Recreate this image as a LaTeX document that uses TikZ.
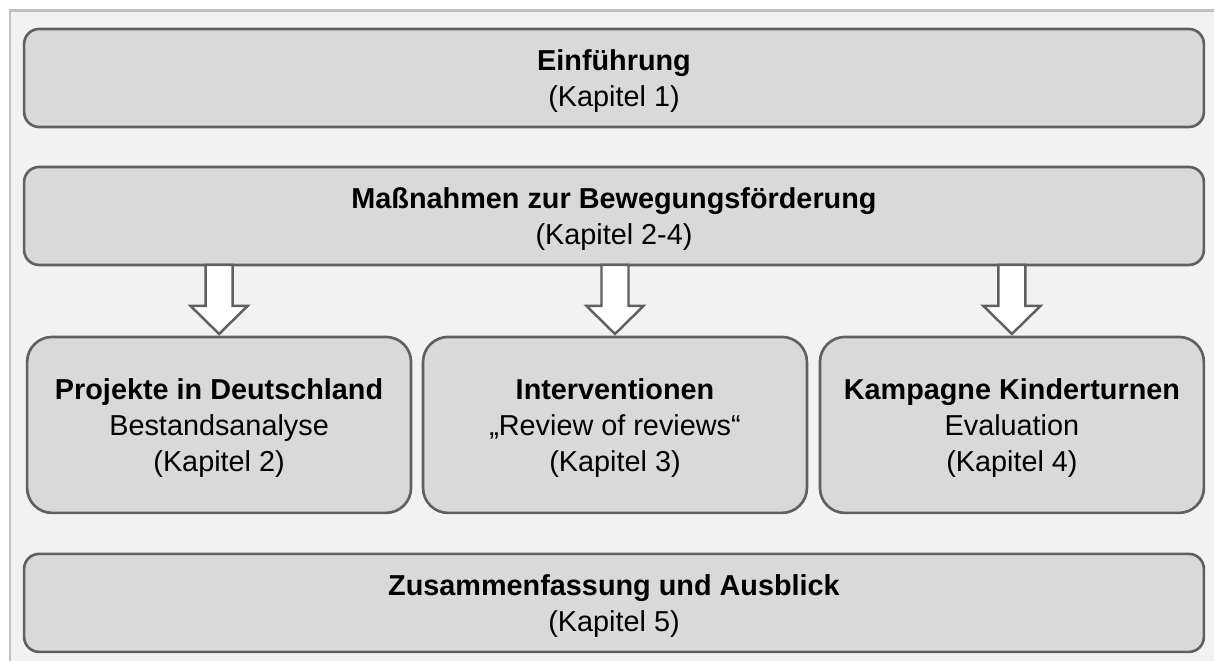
\documentclass[tikz,border=0pt]{standalone}
\usepackage{fontspec}
\setmainfont{Liberation Sans}
\usepackage{tikz}
\usetikzlibrary{positioning,calc}
\definecolor{chgray}{RGB}{217,217,217}
\definecolor{chframe}{RGB}{242,242,242}
\definecolor{chline}{RGB}{96,96,96}
\definecolor{chborder}{RGB}{192,192,192}
\newcommand{\chfont}{\fontsize{16.4}{20.4}\selectfont}
\tikzstyle{widebox} = [rectangle, rounded corners=0.3cm, minimum width=23.6cm, minimum height=1.96cm, outer sep=0pt, draw=chline, fill=chgray, line width=1.5pt, align=center, font=\chfont, text depth=-2pt]
\tikzstyle{partbox} = [rectangle, rounded corners=0.5cm, minimum width=7.68cm, minimum height=3.52cm, outer sep=0pt, draw=chline, fill=chgray, line width=1.5pt, align=center, font=\chfont, text depth=-2pt]
\tikzstyle{blockarrow} = [draw=chline, fill=white, line width=1.4pt, line join=miter]

\begin{document}
\begin{tikzpicture}[x=0.02cm, y=-0.02cm]
\useasboundingbox (0,0) rectangle (1214,661);
% frame
\fill[chframe] (10,11) rectangle (1214,661);
\draw[chborder, line width=1.7pt] (10,661) -- (10,11) -- (1214,11);

% chapters
\node[widebox] (intro) at (614,78) {\textbf{Einführung}\\(Kapitel 1)};
\node[widebox, below=0.8cm of intro] (measures) {\textbf{Maßnahmen zur Bewegungsförderung}\\(Kapitel 2-4)};
\node[partbox, below right=1.44cm and 0.06cm of measures.south west] (proj) {\textbf{Projekte in Deutschland}\\Bestandsanalyse\\(Kapitel 2)};
\node[partbox, right=0.24cm of proj] (interv) {\textbf{Interventionen}\\„Review of reviews“\\(Kapitel 3)};
\node[partbox, right=0.26cm of interv] (kamp) {\textbf{Kampagne Kinderturnen}\\Evaluation\\(Kapitel 4)};
\node[widebox, below=0.82cm of proj.south -| measures.south] (summary) {\textbf{Zusammenfassung und Ausblick}\\(Kapitel 5)};

% arrows
\foreach \b in {proj,interv,kamp}
  \draw[blockarrow] ($(measures.south -| \b.north)+(-13.5,0)$) -- ++(0,41) -- ++(-15,0)
    -- ($(\b.north)+(0,-3)$) -- ($(measures.south -| \b.north)+(28.5,41)$) -- ++(-15,0)
    -- ($(measures.south -| \b.north)+(13.5,0)$) -- cycle;
\end{tikzpicture}
\end{document}
